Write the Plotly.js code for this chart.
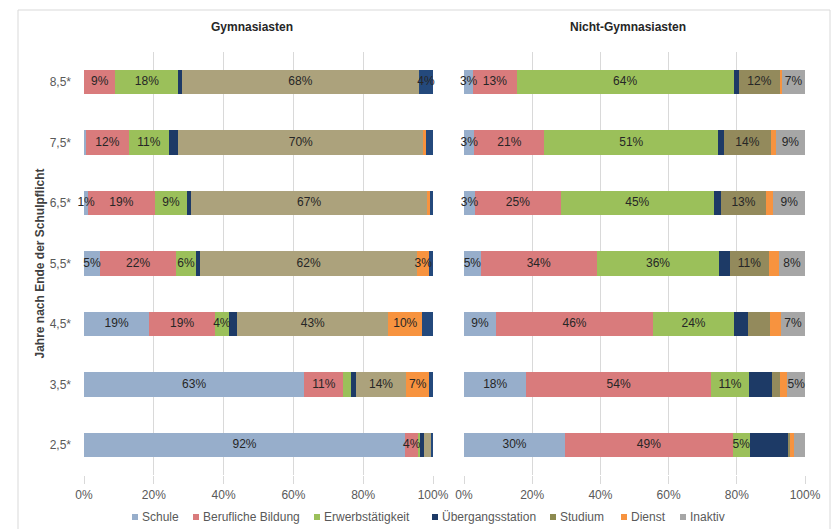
<!DOCTYPE html>
<html><head><meta charset="utf-8">
<script src="https://cdn.plot.ly/plotly-3.0.1.min.js"></script>
<style>html,body{margin:0;padding:0;background:#fff;}#chart{width:832px;height:529px;}</style>
</head><body><div id="chart"></div>
<script>
const categories = ['8,5*','7,5*','6,5*','5,5*','4,5*','3,5*','2,5*'];
const seriesNames = ['Schule','Berufliche Bildung','Erwerbstätigkeit','Übergangsstation','Studium','Dienst','Inaktiv'];
const xTicks = [0,20,40,60,80,100];
const xTickLabels = ['0%','20%','40%','60%','80%','100%'];

// Gymnasiasten (%)
const gymSchule    = [0, 0.5, 1.2, 4.6, 18.7, 63.1, 92.0];
const gymBeruf     = [9, 12.4, 19.0, 21.8, 18.8, 11.2, 3.8];
const gymErwerb    = [18, 11.4, 9.4, 5.6, 4.0, 2.2, 0.4];
const gymUebergang = [1, 2.7, 1.2, 1.2, 2.4, 1.4, 1.2];
const gymStudium   = [68, 70.2, 67.4, 62.3, 43.3, 14.4, 1.9];
const gymDienst    = [0, 0.8, 0.8, 3.4, 9.7, 6.6, 0.2];
const gymInaktiv   = [4, 2.0, 1.0, 1.1, 3.1, 1.1, 0.5];

// Nicht-Gymnasiasten (%)
const nonSchule    = [2.7, 3.0, 3.2, 4.9, 9.4, 18.3, 29.6];
const nonBeruf     = [12.7, 20.6, 25.2, 34.0, 46.0, 54.1, 49.2];
const nonErwerb    = [63.7, 50.9, 44.8, 36.0, 23.8, 11.2, 5.0];
const nonUebergang = [1.4, 1.7, 2.2, 3.1, 4.1, 6.6, 11.2];
const nonStudium   = [12.2, 13.8, 13.1, 11.3, 6.5, 2.4, 0.5];
const nonDienst    = [0.5, 1.4, 2.2, 3.1, 3.1, 2.2, 1.3];
const nonInaktiv   = [6.8, 8.6, 9.3, 7.6, 7.1, 5.2, 3.2];

// label visibility (as in the original)
const labelMin = 2.5;
const unlabeledSeries = {gym: ['Übergangsstation'], non: ['Übergangsstation','Dienst']};
const hiddenLabels = ['gym|Inaktiv|4,5*','non|Studium|4,5*','non|Inaktiv|2,5*'];
const forcedLabels = ['gym|Schule|6,5*'];

const colors = {
  'Schule':'#97aecb', 'Berufliche Bildung':'#d97b7c', 'Erwerbstätigkeit':'#9bc05a',
  'Übergangsstation':'#1d3a66', 'Studium':'#938a5c', 'Dienst':'#f7933f', 'Inaktiv':'#a6a6a6'
};
const gymColors = Object.assign({}, colors, {'Studium':'#aca27c', 'Inaktiv':'#24497c'});
const legendColors = Object.assign({}, colors, {'Studium':'#8c8a50'});

const gymData = [gymSchule, gymBeruf, gymErwerb, gymUebergang, gymStudium, gymDienst, gymInaktiv];
const nonData = [nonSchule, nonBeruf, nonErwerb, nonUebergang, nonStudium, nonDienst, nonInaktiv];

function labels(panel, name, vals){
  return vals.map((v,i)=>{
    const key = panel+'|'+name+'|'+categories[i];
    if (forcedLabels.includes(key)) return Math.round(v)+'%';
    if (unlabeledSeries[panel].includes(name) || hiddenLabels.includes(key) || v < labelMin) return '';
    return Math.round(v)+'%';
  });
}

const FONT = 'Liberation Sans, Arial, Helvetica, sans-serif';
const traces = [];
function addPanel(panel, data, xa, ya, cols){
  const cum = categories.map(()=>0);
  const labelTraces = [];
  seriesNames.forEach((name, k)=>{
    traces.push({
      type:'bar', orientation:'h', name:name,
      x:data[k], y:categories, xaxis:xa, yaxis:ya,
      marker:{color:cols[name], line:{width:0}},
      textposition:'none', cliponaxis:false, showlegend:false,
      hoverinfo:'x+y+name'
    });
    // value labels centred in each segment, positioned through the axis scale
    const mids = data[k].map((v,i)=> cum[i] + v/2);
    data[k].forEach((v,i)=>{ cum[i] += v; });
    labelTraces.push({
      type:'scatter', mode:'text', x:mids, y:categories, xaxis:xa, yaxis:ya,
      text:labels(panel, name, data[k]), textposition:'middle center',
      textfont:{family:FONT, size:12, color:'#262626'},
      cliponaxis:false, showlegend:false, hoverinfo:'skip'
    });
  });
  labelTraces.forEach(t=>traces.push(t));
}
addPanel('gym', gymData, 'x', 'y', gymColors);
addPanel('non', nonData, 'x2', 'y2', colors);

const W = 832, H = 529;
const yDom = [(H-475.25)/H, (H-51.75)/H];
const axX = (dom, anchor) => ({
  domain:dom, anchor:anchor, range:[0,100], tickmode:'array', tickvals:xTicks, ticktext:xTickLabels,
  showgrid:true, gridcolor:'#d9d9d9', gridwidth:1, zeroline:false, showline:false,
  ticks:'outside', ticklen:8, tickcolor:'#d9d9d9',
  tickfont:{family:FONT, size:12, color:'#595959'}, fixedrange:true
});

// Legend drawn as small squares + text (Excel style)
const legendX = [132, 193, 314, 432, 550, 621, 680];
const legendY = 517;
const shapes = [
  {type:'rect', xref:'paper', yref:'paper', x0:18/W, x1:830/W, y0:-0.02, y1:1-10/H,
   line:{color:'#d9d9d9', width:1}, fillcolor:'rgba(0,0,0,0)', layer:'below'}
];
const annotations = [
  {text:'<b>Gymnasiasten</b>', x:252/W, y:1-27/H, xref:'paper', yref:'paper', showarrow:false,
   font:{family:FONT, size:12, color:'#262626'}, xanchor:'center', yanchor:'middle'},
  {text:'<b>Nicht-Gymnasiasten</b>', x:628/W, y:1-27/H, xref:'paper', yref:'paper', showarrow:false,
   font:{family:FONT, size:12, color:'#262626'}, xanchor:'center', yanchor:'middle'}
];
seriesNames.forEach((name, k)=>{
  const x = legendX[k];
  shapes.push({type:'rect', xref:'paper', yref:'paper', x0:x/W, x1:(x+6)/W,
    y0:1-(legendY+3)/H, y1:1-(legendY-3)/H, line:{width:0}, fillcolor:legendColors[name]});
  annotations.push({text:name, x:(x+8)/W, y:1-legendY/H, xref:'paper', yref:'paper', showarrow:false,
    xanchor:'left', yanchor:'middle', font:{family:FONT, size:12, color:'#595959'}});
});

const layout = {
  width:W, height:H, margin:{l:0,r:0,t:0,b:0},
  paper_bgcolor:'#fff', plot_bgcolor:'#fff',
  barmode:'stack', bargap:0.603, showlegend:false,
  font:{family:FONT, size:12, color:'#595959'},
  xaxis: axX([84/W, 433/W], 'y'),
  xaxis2: axX([464/W, 805/W], 'y2'),
  yaxis:{domain:yDom, anchor:'x', type:'category', categoryarray:categories, categoryorder:'array',
    range:[6.5,-0.5], showgrid:false, zeroline:false, showline:false, ticks:'', ticklabelstandoff:12,
    tickfont:{family:FONT, size:12, color:'#595959'}, fixedrange:true,
    title:{text:'Jahre nach Ende der Schulpflicht', standoff:2, font:{family:FONT, size:12, color:'#404040', weight:'bold'}}},
  yaxis2:{domain:yDom, anchor:'x2', type:'category', categoryarray:categories, categoryorder:'array',
    range:[6.5,-0.5], showgrid:false, zeroline:false, showline:false, showticklabels:false, fixedrange:true},
  annotations:annotations,
  shapes:shapes
};
Plotly.newPlot('chart', traces, layout, {displayModeBar:false, staticPlot:true});
</script>
</body></html>
